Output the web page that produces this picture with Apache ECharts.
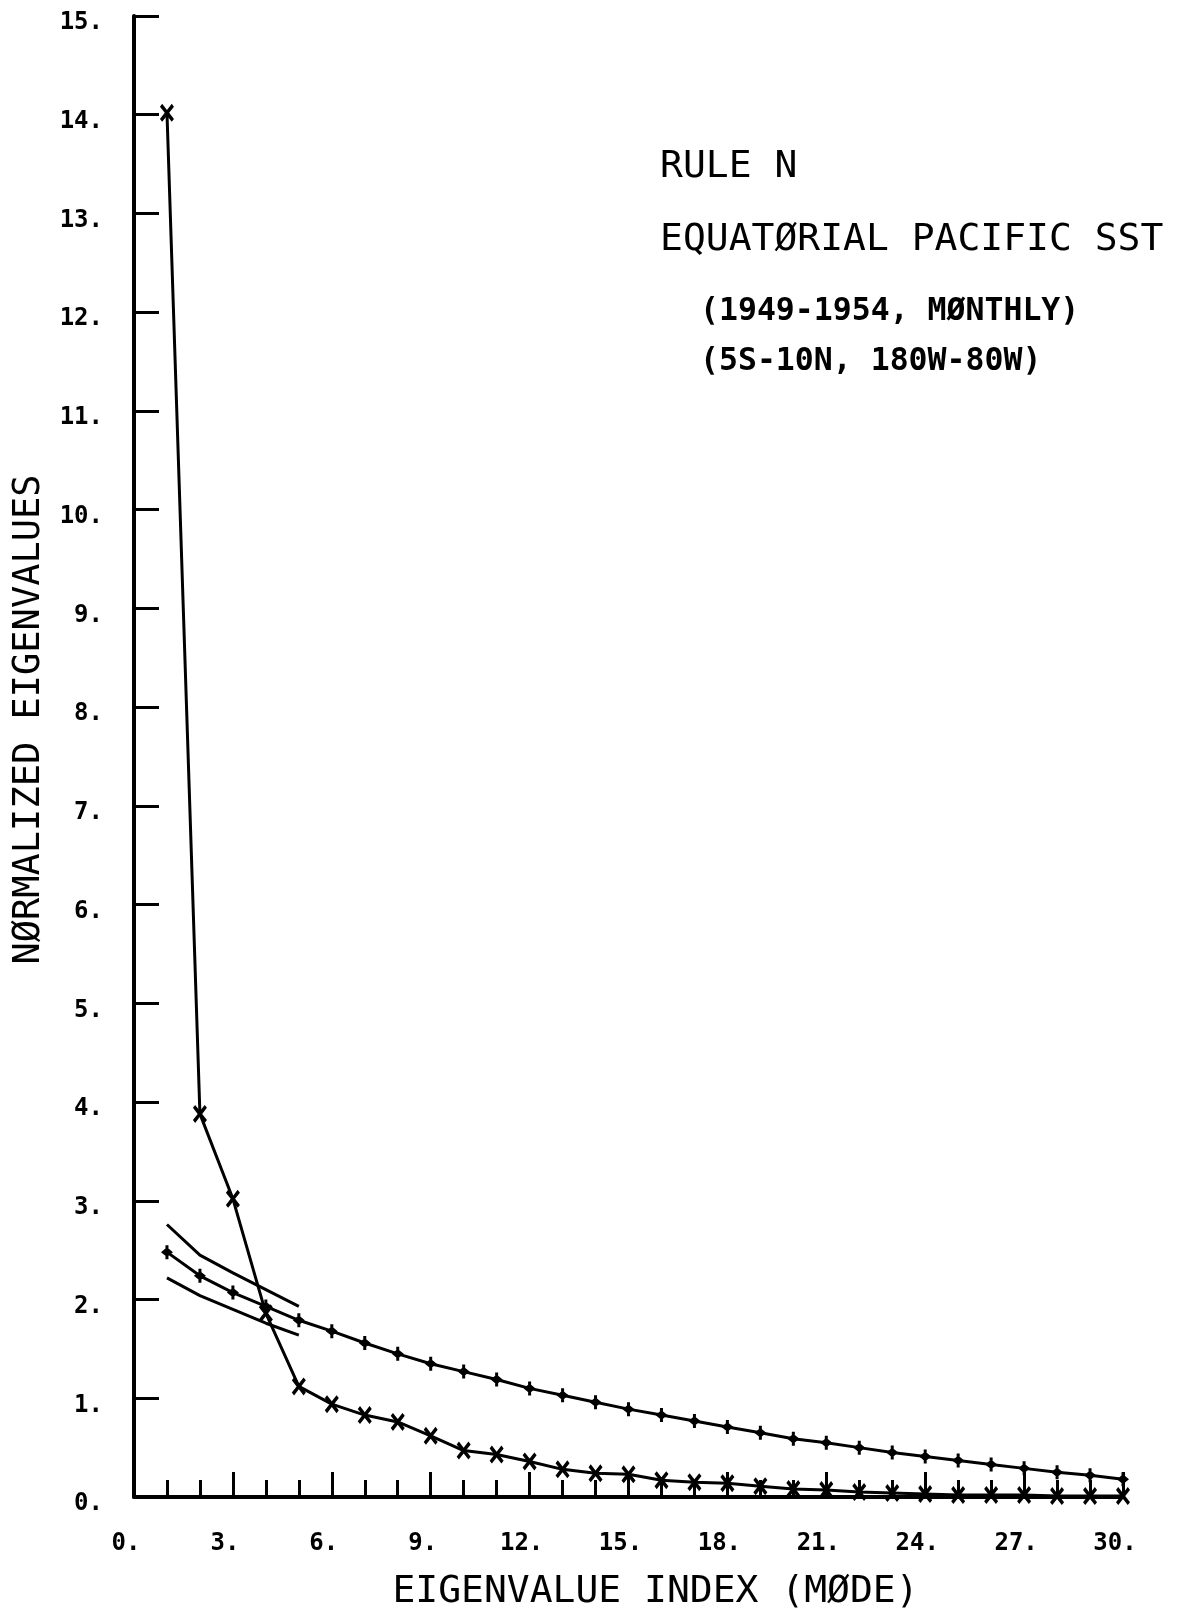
<!DOCTYPE html>
<html><head><meta charset="utf-8">
<script src="https://cdn.jsdelivr.net/npm/echarts@6/dist/echarts.min.js"></script>
<style>html,body{margin:0;padding:0;background:#fff}#c{width:1180px;height:1609px}</style>
</head><body><div id="c"></div>
<script>
const modes = [1,2,3,4,5,6,7,8,9,10,11,12,13,14,15,16,17,18,19,20,21,22,23,24,25,26,27,28,29,30];
const observed = [14.02,3.88,3.02,1.86,1.12,0.94,0.83,0.76,0.62,0.47,0.43,0.36,0.28,0.24,0.23,0.17,0.15,0.14,0.11,0.08,0.07,0.05,0.04,0.03,0.02,0.02,0.02,0.01,0.01,0.01];
const ruleN = [2.48,2.24,2.07,1.93,1.79,1.68,1.56,1.45,1.35,1.27,1.19,1.10,1.03,0.96,0.89,0.83,0.77,0.71,0.65,0.59,0.55,0.50,0.45,0.41,0.37,0.33,0.29,0.25,0.22,0.18];
const boundModes = [1,2,3,4,5];
const ruleUpper = [2.76,2.45,2.27,2.10,1.93];
const ruleLower = [2.22,2.04,1.90,1.76,1.64];
const annotations = ['RULE N','EQUATØRIAL PACIFIC SST','(1949-1954, MØNTHLY)','(5S-10N, 180W-80W)'];
const xName = 'EIGENVALUE INDEX (MØDE)';
const yName = 'NØRMALIZED EIGENVALUES';

const FONT = 'DejaVu Sans Mono';
const pair = (xs, ys) => xs.map((x, i) => [x, ys[i]]);
const xMark = 'path://M0,1.6L1.6,0L5,3.4L8.4,0L10,1.6L6.6,5L10,8.4L8.4,10L5,6.6L1.6,10L0,8.4L3.4,5Z';
const plusMark = 'path://M5,1.5L9,5L5,8.5L1,5ZM4,0H6V10H4Z';

const chart = echarts.init(document.getElementById('c'), null, {renderer: 'canvas'});
chart.setOption({
  backgroundColor: '#fff',
  animation: false,
  grid: {left: 134, top: 16, right: 57, bottom: 112, outerBoundsMode: 'none', containLabel: false},
  xAxis: {
    type: 'value', min: 0, max: 30, interval: 3,
    name: xName, nameLocation: 'middle', nameGap: 76,
    nameTextStyle: {fontFamily: FONT, fontSize: 38, color: '#000', padding: [0, 0, 0, 54]},
    axisLine: {show: true, onZero: false, lineStyle: {color: '#000', width: 4}},
    axisTick: {show: true, inside: true, length: 25, lineStyle: {color: '#000', width: 3}},
    minorTick: {show: true, splitNumber: 3, length: 17, lineStyle: {color: '#000', width: 3}},
    axisLabel: {formatter: v => v + '.', fontFamily: FONT, fontWeight: 'bold', fontSize: 24, color: '#000', margin: 35, padding: [0, 16, 0, 0]},
    splitLine: {show: false}, minorSplitLine: {show: false}
  },
  yAxis: {
    type: 'value', min: 0, max: 15, interval: 1,
    name: yName, nameLocation: 'middle', nameGap: 86, nameRotate: 90,
    nameTextStyle: {fontFamily: FONT, fontSize: 37, color: '#000', padding: [0, 0, 0, 74]},
    axisLine: {show: true, onZero: false, lineStyle: {color: '#000', width: 4}},
    axisTick: {show: true, inside: true, length: 25, lineStyle: {color: '#000', width: 3}},
    axisLabel: {formatter: v => v + '.', fontFamily: FONT, fontWeight: 'bold', fontSize: 24, color: '#000', margin: 31, verticalAlign: 'top', lineHeight: 14},
    splitLine: {show: false}
  },
  series: [
    {type: 'line', data: pair(modes, observed), symbol: xMark, symbolSize: [14, 18], showAllSymbol: true,
     lineStyle: {color: '#000', width: 3}, itemStyle: {color: '#000'}, z: 5},
    {type: 'line', data: pair(modes, ruleN), symbol: plusMark, symbolSize: [12, 14], showAllSymbol: true,
     lineStyle: {color: '#000', width: 3}, itemStyle: {color: '#000'}, z: 4},
    {type: 'line', data: pair(boundModes, ruleUpper), symbol: 'none',
     lineStyle: {color: '#000', width: 3}, z: 3},
    {type: 'line', data: pair(boundModes, ruleLower), symbol: 'none',
     lineStyle: {color: '#000', width: 3}, z: 3}
  ],
  graphic: [
    {type: 'text', left: 660, top: 148, style: {text: annotations[0], font: '38px "DejaVu Sans Mono"', fill: '#000'}},
    {type: 'text', left: 660, top: 221, style: {text: annotations[1], font: '38px "DejaVu Sans Mono"', fill: '#000'}},
    {type: 'text', left: 700, top: 296, style: {text: annotations[2], font: 'bold 31.5px "DejaVu Sans Mono"', fill: '#000'}},
    {type: 'text', left: 700, top: 346, style: {text: annotations[3], font: 'bold 31.5px "DejaVu Sans Mono"', fill: '#000'}}
  ]
});
</script>
</body></html>
